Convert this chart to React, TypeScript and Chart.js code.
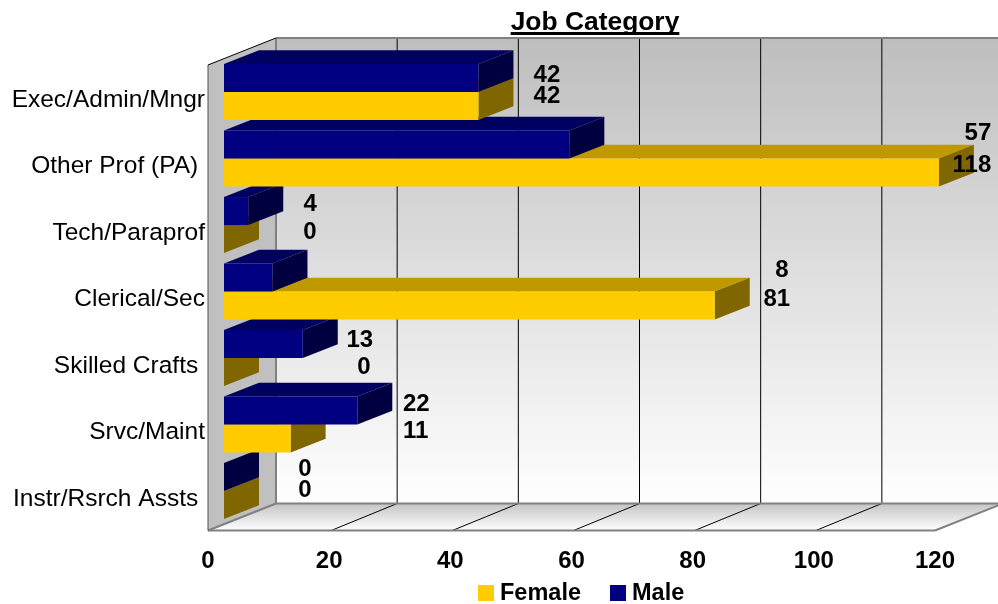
import React, { useEffect, useRef } from "react";
import { Chart, registerables } from "chart.js";

Chart.register(...registerables);

const chartTitle = "Job Category";
const categories = [
  "Exec/Admin/Mngr",
  "Other Prof (PA) ",
  "Tech/Paraprof",
  "Clerical/Sec",
  "Skilled Crafts ",
  "Srvc/Maint",
  "Instr/Rsrch Assts ",
];
const maleValues = [42, 57, 4, 8, 13, 22, 0];
const femaleValues = [42, 118, 0, 81, 0, 11, 0];
const xTicks = [0, 20, 40, 60, 80, 100, 120];

// Hand-placed data label nudges, relative to each bar's front end / centre
const maleLabelDx = [68.5, 408.6, 62, 509.5, 57, 59, 81];
const maleLabelDy = [-2.2, -11.5, -6.2, -7.5, -3.2, -6.5, -7.2];
const femaleLabelDx = [68.5, 33, 86, 62, 140, 125, 81];
const femaleLabelDy = [-9.2, -7.5, -6.2, -6.5, -4.2, -7.5, -14.2];

const FONT = "'Liberation Sans', Arial, sans-serif";
const FEMALE = "#FFCC00";
const MALE = "#000080";
const shades: Record<string, { top: string; side: string }> = {
  [FEMALE]: { top: "#C09900", side: "#806600" },
  [MALE]: { top: "#000060", side: "#000040" },
};

const WALL = { dx: 68, dy: -27 };
const BAR_OFFSET = { dx: 16, dy: -6.2 };
const BAR_DEPTH = { dx: 35, dy: -13.8 };

function line(ctx: CanvasRenderingContext2D, pts: number[][], color: string, w: number) {
  ctx.beginPath();
  pts.forEach((p, i) => (i ? ctx.lineTo(p[0], p[1]) : ctx.moveTo(p[0], p[1])));
  ctx.strokeStyle = color;
  ctx.lineWidth = w;
  ctx.stroke();
}
function poly(ctx: CanvasRenderingContext2D, pts: number[][], fill: string | CanvasGradient) {
  ctx.beginPath();
  pts.forEach((p, i) => (i ? ctx.lineTo(p[0], p[1]) : ctx.moveTo(p[0], p[1])));
  ctx.closePath();
  ctx.fillStyle = fill;
  ctx.fill();
}

const box3d = {
  id: "box3d",
  afterLayout(chart: any) {
    const t = chart.titleBlock;
    if (t) {
      t.left = 295;
      t.right = 895;
    }
  },
  beforeDatasetDraw() {
    return false;
  },
  beforeDatasetsDraw(chart: any) {
    const ctx: CanvasRenderingContext2D = chart.ctx;
    const { left: L, right: R, top: T, bottom: B } = chart.chartArea;
    const x = chart.scales.x;
    const bx = L + WALL.dx;
    const bT = T + WALL.dy;
    const bB = B + WALL.dy;
    const bR = R + WALL.dx;
    ctx.save();
    const backG = ctx.createLinearGradient(0, bT, 0, bB);
    backG.addColorStop(0, "#BEBEBE");
    backG.addColorStop(1, "#FFFFFF");
    poly(ctx, [[bx, bT], [bR, bT], [bR, bB], [bx, bB]], backG);
    poly(ctx, [[L, T], [bx, bT], [bx, bB], [L, B]], "#C0C0C0");
    const floorG = ctx.createLinearGradient(0, bB, 0, B);
    floorG.addColorStop(0, "#C4C4C4");
    floorG.addColorStop(1, "#FFFFFF");
    poly(ctx, [[L, B], [bx, bB], [bR, bB], [R, B]], floorG);

    xTicks.slice(1, -1).forEach((v) => {
      const px = x.getPixelForValue(v);
      line(ctx, [[px + WALL.dx, bT], [px + WALL.dx, bB]], "#000000", 1);
      line(ctx, [[px + 2, B], [px + WALL.dx, bB]], "#000000", 1);
    });

    line(ctx, [[bx, bT], [bR, bT]], "#808080", 2);
    line(ctx, [[bx, bT], [bx, bB]], "#808080", 2);
    line(ctx, [[bx, bB], [bR, bB]], "#808080", 2);
    line(ctx, [[L, B], [R, B]], "#808080", 2);
    line(ctx, [[L, B], [bx, bB]], "#808080", 2);
    line(ctx, [[R, B], [bR, bB]], "#808080", 2);
    line(ctx, [[L, T], [L, B]], "#505050", 1);
    line(ctx, [[L, T], [bx, bT]], "#000000", 1);

    // bars: lower categories first, female before male
    const maleMeta = chart.getDatasetMeta(0).data;
    const femaleMeta = chart.getDatasetMeta(1).data;
    for (let i = categories.length - 1; i >= 0; i--) {
      [femaleMeta[i], maleMeta[i]].forEach((el: any, k: number) => {
        const color = k === 0 ? FEMALE : MALE;
        const p = el.getProps(["x", "y", "base", "height"]);
        const x0 = p.base + BAR_OFFSET.dx;
        const x1 = p.x + BAR_OFFSET.dx;
        const y0 = p.y - p.height / 2 + BAR_OFFSET.dy;
        const y1 = p.y + p.height / 2 + BAR_OFFSET.dy;
        const dx = BAR_DEPTH.dx;
        const dy = BAR_DEPTH.dy;
        poly(ctx, [[x0, y0], [x0 + dx, y0 + dy], [x1 + dx, y0 + dy], [x1, y0]], shades[color].top);
        poly(ctx, [[x1, y0], [x1 + dx, y0 + dy], [x1 + dx, y1 + dy], [x1, y1]], shades[color].side);
        ctx.save();
        ctx.translate(BAR_OFFSET.dx, BAR_OFFSET.dy);
        el.draw(ctx);
        ctx.restore();
      });
    }

    // data labels
    ctx.fillStyle = "#000000";
    ctx.font = `bold 24px ${FONT}`;
    ctx.textAlign = "center";
    ctx.textBaseline = "middle";
    for (let i = 0; i < categories.length; i++) {
      const m = maleMeta[i].getProps(["x", "y"]);
      const f = femaleMeta[i].getProps(["x", "y"]);
      ctx.fillText(String(maleValues[i]), m.x + BAR_OFFSET.dx + maleLabelDx[i], m.y + BAR_OFFSET.dy + maleLabelDy[i]);
      ctx.fillText(String(femaleValues[i]), f.x + BAR_OFFSET.dx + femaleLabelDx[i], f.y + BAR_OFFSET.dy + femaleLabelDy[i]);
    }
    ctx.restore();
  },
  afterDraw(chart: any) {
    const ctx: CanvasRenderingContext2D = chart.ctx;
    ctx.save();
    // title underline
    const t = chart.titleBlock;
    ctx.font = `bold 26.4px ${FONT}`;
    const w = ctx.measureText(chartTitle).width;
    const cx = (t.left + t.right) / 2;
    ctx.fillStyle = "#000000";
    ctx.fillRect(cx - w / 2, 32, w, 3);

    // legend
    const items = [chart.data.datasets[1], chart.data.datasets[0]];
    ctx.font = `bold 23.5px ${FONT}`;
    ctx.textAlign = "left";
    ctx.textBaseline = "middle";
    let lx = 478;
    items.forEach((d: any) => {
      ctx.fillStyle = d.backgroundColor;
      ctx.fillRect(lx, 585, 16, 16);
      ctx.fillStyle = "#000000";
      ctx.fillText(d.label, lx + 22, 594);
      lx += 22 + ctx.measureText(d.label).width + 29;
    });
    ctx.restore();
  },
};

export default function App() {
  const ref = useRef<HTMLCanvasElement>(null);
  useEffect(() => {
    const chart = new Chart(ref.current!, {
      type: "bar",
      data: {
        labels: categories,
        datasets: [
          { label: "Male", data: maleValues, backgroundColor: MALE, borderWidth: 0 },
          { label: "Female", data: femaleValues, backgroundColor: FEMALE, borderWidth: 0 },
        ],
      },
      plugins: [box3d as any],
      options: {
        indexAxis: "y",
        responsive: false,
        animation: false,
        devicePixelRatio: 1,
        layout: { padding: { left: 0, right: 63, top: 0, bottom: 0 } },
        datasets: { bar: { categoryPercentage: 0.842, barPercentage: 1 } },
        plugins: {
          legend: { display: false },
          tooltip: { enabled: false },
          title: {
            display: true,
            text: chartTitle,
            color: "#000000",
            font: { family: FONT, size: 26.4, weight: "bold", lineHeight: 1.2 },
            padding: { top: 6.5, bottom: 26.8 },
          },
        },
        scales: {
          x: {
            min: 0,
            max: 120,
            afterFit: (s: any) => {
              s.height = 73.5;
            },
            afterBuildTicks: (s: any) => {
              s.ticks = xTicks.map((value) => ({ value }));
            },
            grid: { display: false, drawTicks: false },
            border: { display: false },
            ticks: {
              color: "#000000",
              font: { family: FONT, size: 24, weight: "bold" },
              padding: 16,
              maxRotation: 0,
              autoSkip: false,
            },
          },
          y: {
            afterFit: (s: any) => {
              s.width = 208;
            },
            grid: { display: false, drawTicks: false },
            border: { display: false },
            ticks: {
              color: "#000000",
              font: { family: FONT, size: 24.5 },
              padding: 3,
              labelOffset: 2,
              autoSkip: false,
            },
          },
        },
      } as any,
    });
    return () => chart.destroy();
  }, []);
  return (
    <canvas
      ref={ref}
      width={998}
      height={604}
      style={{ position: "fixed", left: 0, top: 0, width: 998, height: 604, display: "block" }}
    />
  );
}
